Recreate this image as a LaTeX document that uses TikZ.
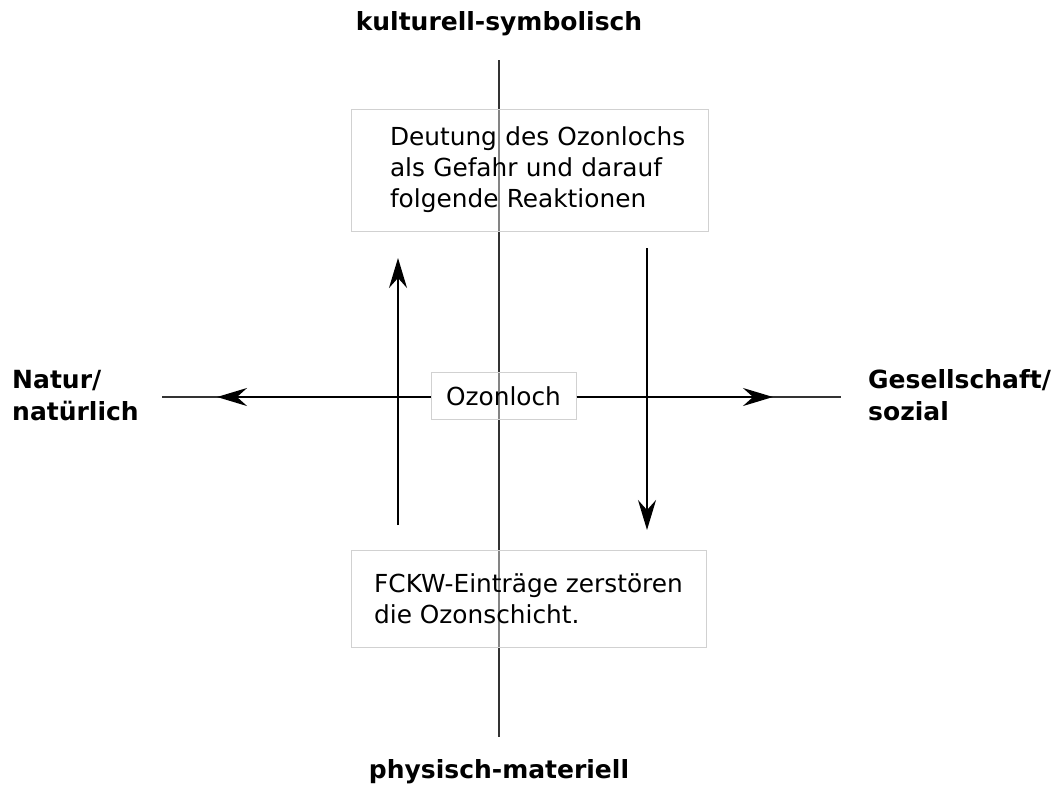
\documentclass[tikz,border=0pt]{standalone}
\usepackage{fontspec}
\setmainfont{DejaVu Sans}
\usetikzlibrary{arrows.meta}
\tikzset{
  axis/.style = {draw=black!80, line width=2pt},
  flow/.style = {
    draw=black, line width=2pt,
    -{Stealth[length=30pt,width=18pt,inset=10pt]}
  },
  textbox/.style = {
    draw=black!18, line width=1pt,
    fill=white, fill opacity=0.4, text opacity=1,
    align=left, font=\fontsize{24.8}{31}\selectfont
  },
  pole/.style = {
    font=\bfseries\fontsize{25}{32}\selectfont,
    align=left, inner sep=0pt
  }
}

\begin{document}
\begin{tikzpicture}[x=1pt,y=-1pt]
  \useasboundingbox (0,0) rectangle (1054,785);
  % axes
  \coordinate (N) at (499,60);
  \coordinate (S) at (499,737);
  \coordinate (W) at (162,397);
  \coordinate (E) at (841,397);
  \draw[axis] (N) -- (S);
  % boxes
  \node[textbox, text width=314pt, execute at begin node={\leftskip=17.5pt\relax},
        minimum width=357pt, minimum height=122pt] (deutung) at (529.5,170)
    {Deutung des Ozonlochs\\als Gefahr und darauf\\folgende Reaktionen};
  \node[textbox, minimum width=145pt, minimum height=47pt] (ozon) at (503.5,396)
    {Ozonloch};
  \node[textbox, minimum width=355pt, minimum height=97pt] (fckw) at (528.5,598.5)
    {FCKW-Einträge zerstören\\die Ozonschicht.};
  \draw[axis] (ozon.west |- W) -- (W);
  \draw[axis] (ozon.east |- E) -- (E);
  % arrows
  \coordinate (Wtip) at (217,397);
  \coordinate (Etip) at (773,397);
  \coordinate (upfrom) at (398,525);
  \coordinate (upto) at (398,258);
  \coordinate (downfrom) at (647,248);
  \coordinate (downto) at (647,530);
  \draw[flow] (ozon.west |- W) -- (Wtip);
  \draw[flow] (ozon.east |- E) -- (Etip);
  \draw[flow] (upfrom) -- (upto);
  \draw[flow] (downfrom) -- (downto);
  % poles
  \node[pole, anchor=base] (kultur) at (499,30) {kulturell-symbolisch};
  \node[pole, anchor=base] (physisch) at (499,778) {physisch-materiell};
  \node[pole, anchor=base west] (natur) at (12,420) {Natur/\\natürlich};
  \node[pole, anchor=base west] (gesellschaft) at (868,420) {Gesellschaft/\\sozial};
\end{tikzpicture}
\end{document}
